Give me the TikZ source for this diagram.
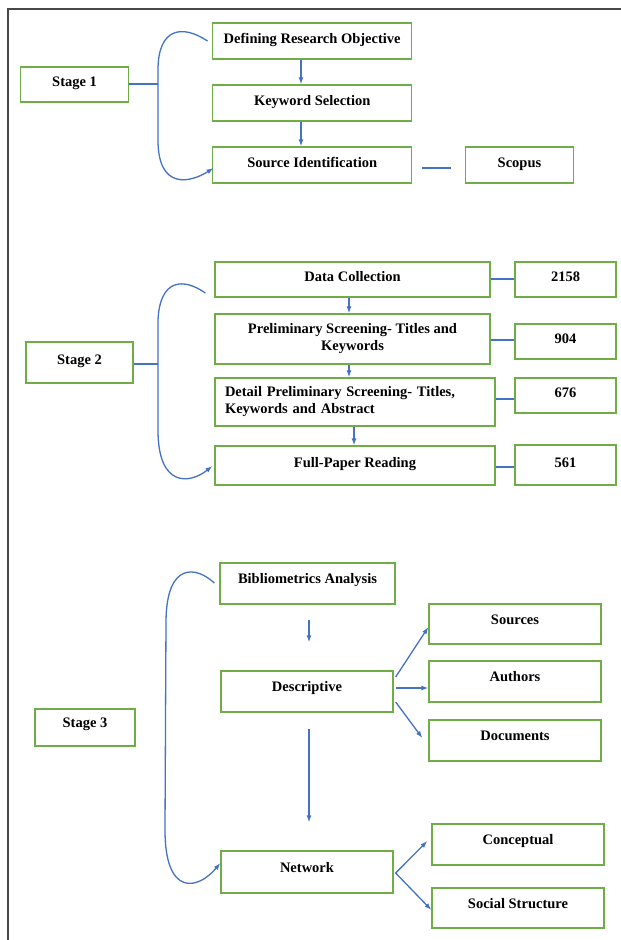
\documentclass[tikz,border=0pt]{standalone}
\usepackage{fontspec}
\setmainfont{Liberation Serif}
\usetikzlibrary{arrows.meta,calc}

\definecolor{boxgreen}{RGB}{112,173,71}
\definecolor{linkblue}{RGB}{68,114,196}
\definecolor{framegray}{RGB}{72,72,72}

\tikzset{
  box/.style={draw=boxgreen, line width=1.3pt, fill=white, inner sep=0pt,
    font=\bfseries\fontsize{14.5}{17}\selectfont,
    text height=10pt, text depth=6pt},
  level/.style={text height=10pt, text depth=10pt},
  multi/.style={text height=, text depth=},
  link/.style={draw=linkblue, line width=1.3pt},
  arr/.style={link, -{Latex[length=7pt,width=5pt]}},
  rim/.style={draw=framegray, line width=2pt}
}

\begin{document}
\begin{tikzpicture}[x=1pt,y=-1pt]
  % canvas and outer rules
  \fill[white] (0,0) rectangle (621,940);
  \useasboundingbox (0,0) rectangle (621,940);
  \draw[rim] (6.5,8.5) -- (621,8.5);
  \draw[rim] (7.5,7.5) -- (7.5,940);

  % ---------- Stage 1 ----------
  \node[box, minimum width=108pt, minimum height=35pt] (s1)   at (74.6,84.5) {Stage 1};
  \node[box, minimum width=199pt, minimum height=36pt] (def)  at (312.2,41)  {Defining Research Objective};
  \node[box, minimum width=199pt, minimum height=36pt] (kw)   at (312.2,103) {Keyword Selection};
  \node[box, minimum width=199pt, minimum height=36pt] (src)  at (312.2,165) {Source Identification};
  \node[box, minimum width=107.6pt, minimum height=36pt] (scop) at (519.5,165) {Scopus};

  \coordinate (b1) at (158,84);
  \draw[link] (s1.east |- b1) -- (b1);
  \draw[arr] ($(def.west)+(-4.5,0)$) .. controls (182,24) and (158,28) .. (158,70)
     -- (158,140) .. controls (158,190) and (190,183) .. ($(src.west)+(1.5,3)$);
  \draw[arr] ([xshift=-11.2pt]def.south) -- ([xshift=-11.2pt]kw.north);
  \draw[arr] ([xshift=-11.2pt]kw.south) -- ([xshift=-11.2pt]src.north);
  \draw[link] ($(src.east)+(10,3)$) -- ($(scop.west)+(-14,3)$);

  % ---------- Stage 2 ----------
  \node[box, minimum width=107pt, minimum height=41pt] (s2)    at (79.5,362.5) {Stage 2};
  \node[box, minimum width=275pt, minimum height=35pt] (dc)    at (352.5,279.5) {Data Collection};
  \node[box, minimum width=101pt, minimum height=35pt] (n2158) at (565.5,279.5) {2158};
  \node[box, multi, align=center, minimum width=275pt, minimum height=50pt] (ps) at (352.5,339)
    {Preliminary Screening- Titles and\\Keywords};
  \node[box, minimum width=101pt, minimum height=35pt] (n904)  at (565.5,341.5) {904};
  \node[box, multi, align=left, text width=260pt, inner xsep=10pt, minimum height=48pt] (dp) at (355,402)
    {Detail Preliminary Screening- Titles,\\Keywords and Abstract};
  \node[box, minimum width=101pt, minimum height=35pt] (n676)  at (565.5,395.5) {676};
  \node[box, minimum width=280pt, minimum height=39pt] (fp)    at (355,465.5) {Full-Paper Reading};
  \node[box, minimum width=101pt, minimum height=40pt] (n561)  at (565.5,465) {561};

  \coordinate (b2) at (158,364);
  \draw[link] (s2.east |- b2) -- (b2);
  \draw[arr] ($(dc.west)+(-9,13.5)$) .. controls (184,278) and (160,278) .. (158,320)
     -- (158,430) .. controls (158,488) and (190,484) .. ($(fp.west)+(-2,0.5)$);
  \draw[arr] ([xshift=-3.5pt]dc.south) -- ([xshift=-3.5pt]ps.north);
  \draw[arr] ([xshift=-3.5pt]ps.south) -- ([xshift=-3.5pt]ps.south |- dp.north);
  \draw[arr] ([xshift=-1pt]dp.south) -- ([xshift=-1pt]fp.north);
  \draw[link] ($(dc.east)+(0,-0.5)$) -- ($(n2158.west)+(0,-0.5)$);
  \draw[link] ($(ps.east)+(0,1)$) -- ($(n904.west)+(0,-1.5)$);
  \draw[link] ($(dp.east)+(0,-3)$) -- ($(n676.west)+(0,3.5)$);
  \draw[link] ($(fp.east)+(0,1.5)$) -- ($(n561.west)+(0,2)$);

  % ---------- Stage 3 ----------
  \node[box, level, minimum width=100pt, minimum height=37pt] (s3) at (85,727.5) {Stage 3};
  \node[box, level, minimum width=175pt, minimum height=41pt] (ba) at (307.5,583.5) {Bibliometrics Analysis};
  \node[box, level, minimum width=172pt, minimum height=41pt] (de) at (307,691.5) {Descriptive};
  \node[box, level, minimum width=172pt, minimum height=42pt] (nw) at (307,872) {Network};
  \node[box, level, minimum width=172pt, minimum height=40pt] (so) at (515,624) {Sources};
  \node[box, level, minimum width=172pt, minimum height=41pt] (au) at (515,681.5) {Authors};
  \node[box, level, minimum width=172pt, minimum height=41pt] (dm) at (515,740.5) {Documents};
  \node[box, level, minimum width=172pt, minimum height=41pt] (co) at (518,844.5) {Conceptual};
  \node[box, level, minimum width=172pt, minimum height=40pt] (ss) at (518,908) {Social Structure};

  \draw[arr] ($(ba.west)+(-5,-0.5)$) .. controls (196,566) and (167,562) .. (166,620)
     -- (165,830) .. controls (165,897) and (198,890) .. ($(nw.west)+(0,-9)$);
  \draw[arr] ($(ba.south)+(1.5,15)$) -- ($(de.north)+(2,-28)$);
  \draw[arr] ($(de.south)+(2,16)$) -- ($(nw.north)+(2,-28)$);
  \draw[arr] ($(de.east)+(2,-14.5)$) -- ($(so.west)+(0,3)$);
  \draw[arr] ($(de.east)+(2,-3.5)$) -- ($(au.west)+(0,6.5)$);
  \draw[arr] ($(de.east)+(2,10.5)$) -- ($(dm.west)+(-6,-2.5)$);
  \coordinate (nwfork) at ($(nw.east)+(2,1)$);
  \draw[arr] (nwfork) -- ($(co.west)+(-4,-3.5)$);
  \draw[arr] (nwfork) -- ($(ss.west)+(0,2)$);
\end{tikzpicture}
\end{document}
